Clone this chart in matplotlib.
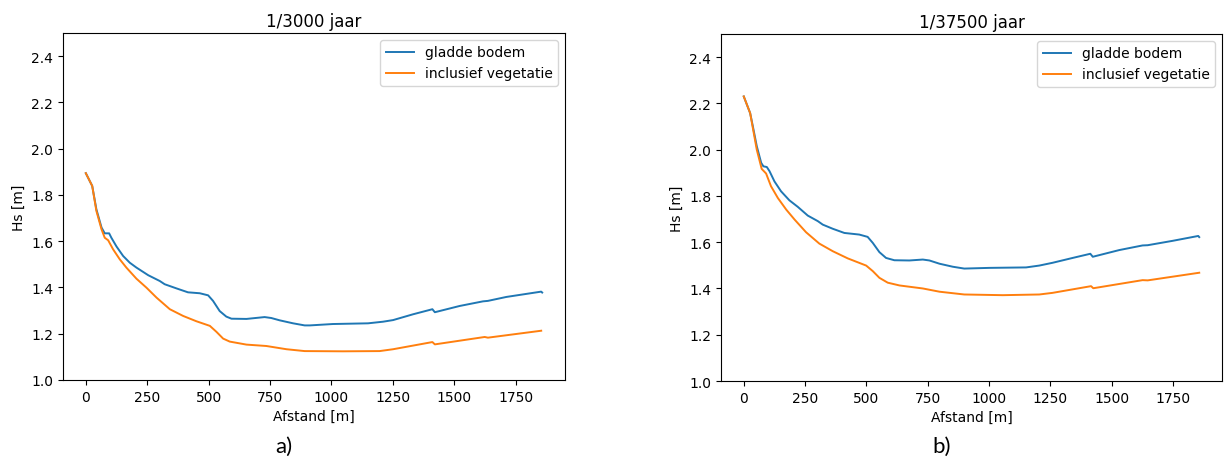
import matplotlib
matplotlib.use('Agg')
import matplotlib.pyplot as plt

# golfhoogte langs het profiel, afgelezen uit de figuur
# a) 1/3000 jaar
x_a_glad = [0, 26, 43, 64, 77, 95, 104, 125, 152, 179, 206, 254, 301, 321, 369, 416, 464, 498,
            518, 545, 572, 593, 654, 728, 755, 789, 844, 891, 912, 1006, 1149, 1210, 1251, 1332,
            1411, 1421, 1522, 1617, 1637, 1712, 1854, 1858]
hs_a_glad = [1.894, 1.839, 1.738, 1.659, 1.634, 1.634, 1.615, 1.577, 1.536, 1.507, 1.486, 1.453,
             1.428, 1.414, 1.396, 1.379, 1.375, 1.366, 1.342, 1.298, 1.274, 1.265, 1.264, 1.272,
             1.268, 1.258, 1.245, 1.236, 1.236, 1.242, 1.245, 1.252, 1.259, 1.284, 1.306, 1.293,
             1.320, 1.340, 1.342, 1.359, 1.382, 1.378]
x_a_veg = [0, 26, 43, 64, 77, 91, 111, 138, 165, 206, 247, 288, 342, 396, 450, 505, 532, 559,
           586, 654, 735, 817, 891, 1047, 1196, 1251, 1411, 1421, 1624, 1637, 1854]
hs_a_veg = [1.894, 1.839, 1.731, 1.651, 1.615, 1.604, 1.565, 1.522, 1.486, 1.438, 1.399, 1.356,
            1.306, 1.277, 1.254, 1.234, 1.208, 1.179, 1.166, 1.153, 1.147, 1.133, 1.125, 1.124,
            1.125, 1.133, 1.164, 1.154, 1.186, 1.183, 1.213]

# b) 1/37500 jaar
x_b_glad = [0, 26, 37, 53, 71, 80, 94, 105, 125, 152, 186, 220, 261, 302, 322, 363, 410, 471,
            505, 526, 553, 580, 614, 675, 730, 757, 798, 852, 899, 1001, 1151, 1205, 1259, 1341,
            1413, 1423, 1531, 1626, 1647, 1749, 1853, 1857]
hs_b_glad = [2.230, 2.158, 2.101, 2.015, 1.943, 1.928, 1.925, 1.907, 1.863, 1.820, 1.781, 1.753,
             1.715, 1.691, 1.676, 1.658, 1.640, 1.633, 1.623, 1.597, 1.557, 1.532, 1.522, 1.521,
             1.525, 1.521, 1.507, 1.494, 1.486, 1.489, 1.491, 1.499, 1.511, 1.532, 1.550, 1.537,
             1.566, 1.586, 1.587, 1.606, 1.627, 1.622]
x_b_veg = [0, 26, 53, 73, 91, 111, 139, 173, 207, 254, 308, 363, 424, 499, 526, 553, 587, 635,
           730, 798, 899, 1056, 1205, 1259, 1416, 1425, 1626, 1647, 1857]
hs_b_veg = [2.230, 2.158, 2.000, 1.917, 1.897, 1.842, 1.791, 1.741, 1.698, 1.643, 1.594, 1.561,
            1.530, 1.499, 1.475, 1.446, 1.425, 1.413, 1.400, 1.386, 1.374, 1.371, 1.374, 1.381,
            1.410, 1.401, 1.436, 1.435, 1.468]

titels = ["1/3000 jaar", "1/37500 jaar"]
letters = ["a)", "b)"]
yticks = [1.0, 1.2, 1.4, 1.6, 1.8, 2.0, 2.2, 2.4]
xticks = [0, 250, 500, 750, 1000, 1250, 1500, 1750]

W, H = 1224, 464
fig = plt.figure(figsize=(W / 100, H / 100), dpi=100)
plt.rcParams['font.size'] = 10

# assen-posities in pixels (links, onder, breedte, hoogte)
posities = [(63, 83, 502, 347), (721, 82, 501, 347)]
data = [(x_a_glad, hs_a_glad, x_a_veg, hs_a_veg), (x_b_glad, hs_b_glad, x_b_veg, hs_b_veg)]

for i in range(2):
    l, b, w, h = posities[i]
    ax = fig.add_axes([l / W, b / H, w / W, h / H])
    xg, yg, xv, yv = data[i]
    ax.plot(xg, yg, color="#1f77b4", lw=1.4, label="gladde bodem")
    ax.plot(xv, yv, color="#ff7f0e", lw=1.4, label="inclusief vegetatie")
    ax.set_ylim(1.0, 2.5)
    ax.set_yticks(yticks)
    ax.set_xticks(xticks)
    ax.set_title(titels[i], fontsize=12, pad=5)
    ax.set_xlabel("Afstand [m]", fontsize=10)
    ax.set_ylabel("Hs [m]", fontsize=10)
    ax.legend(loc="upper right", fontsize=10)
    ax.tick_params(labelsize=10)
    fig.text((l + w / 2 - 30) / W, 17 / H, letters[i], fontsize=16,
             family=["Lato", "DejaVu Sans"], ha="center", va="center")

fig.savefig("out.png", dpi=100)
